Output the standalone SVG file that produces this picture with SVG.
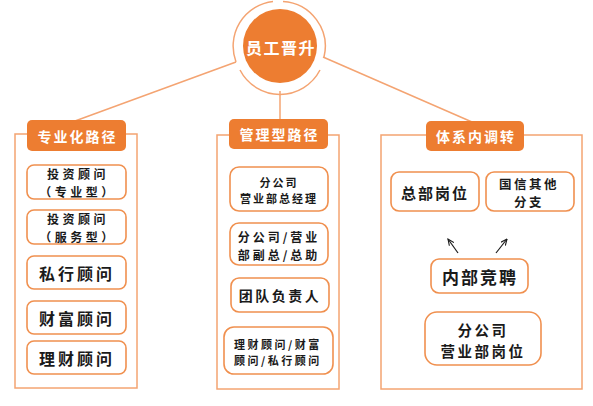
<svg xmlns="http://www.w3.org/2000/svg" width="593" height="406" viewBox="0 0 593 406">
<style>
text{font-family:"Noto Sans CJK SC","Noto Sans",sans-serif;font-weight:bold;text-anchor:middle;dominant-baseline:central}
.hdr{fill:#ED7D31}
.ht{fill:#fff;font-size:14px;letter-spacing:2px}
.box{fill:#fff;stroke:#F0904F;stroke-width:1.6}
.cont{fill:none;stroke:#F4A472;stroke-width:1.5}
.t{fill:#1a1a1a}
.ln{stroke:#F4A472;stroke-width:1.5;fill:none}
.ar{stroke:#1a1a1a;stroke-width:1.2;fill:none}
</style>
<defs>
<marker id="ah" viewBox="0 0 10 10" refX="9" refY="5" markerWidth="7" markerHeight="7" orient="auto-start-reverse" markerUnits="userSpaceOnUse">
<path d="M0,1 L9,5 L0,9" fill="none" stroke="#1a1a1a" stroke-width="1.6"/>
</marker>
</defs>
<rect width="593" height="406" fill="#fff"/>
<g id="connectors">
<line class="ln" x1="236" y1="62" x2="75" y2="121"/>
<line class="ln" x1="280" y1="91" x2="280" y2="120"/>
<line class="ln" x1="323" y1="57" x2="472" y2="122"/>
<line class="ar" x1="458" y1="253" x2="448" y2="239" marker-end="url(#ah)"/>
<line class="ar" x1="496" y1="253" x2="507" y2="239" marker-end="url(#ah)"/>
</g>
<g id="root">
<path class="ln" d="M273,1.5 A45,45 0 0 0 236,62 M240,70 A45,45 0 0 0 320,70 M324,57 A45,45 0 0 0 283,1.5"/>
<circle cx="280" cy="46" r="37" fill="#ED7D31"/>
<text x="281" y="47" fill="#fff" font-size="16" letter-spacing="1.5">员工晋升</text>
</g>
<g id="col-left">
<rect class="cont" x="15" y="134" width="122" height="254"/>
<rect class="hdr" x="27" y="120" width="99" height="31" rx="5"/>
<text class="ht" x="77.5" y="135.5">专业化路径</text>
</g>
<g id="n-l1"><rect class="box" x="27" y="165" width="99" height="34" rx="7"/><text class="t" font-size="12" letter-spacing="3.5"><tspan x="78" y="173">投资顾问</tspan><tspan x="78" y="190.5">（专业型）</tspan></text></g>
<g id="n-l2"><rect class="box" x="27" y="210" width="99" height="34" rx="7"/><text class="t" font-size="12" letter-spacing="3.5"><tspan x="78" y="218">投资顾问</tspan><tspan x="78" y="235.5">（服务型）</tspan></text></g>
<g id="n-l3"><rect class="box" x="27" y="256" width="99" height="33" rx="7"/><text class="t" x="77" y="272.5" font-size="16" letter-spacing="3">私行顾问</text></g>
<g id="n-l4"><rect class="box" x="27" y="301" width="99" height="33" rx="7"/><text class="t" x="77" y="317.5" font-size="16" letter-spacing="3">财富顾问</text></g>
<g id="n-l5"><rect class="box" x="27" y="341" width="99" height="33" rx="7"/><text class="t" x="77" y="357.5" font-size="16" letter-spacing="3">理财顾问</text></g>
<g id="col-mid">
<rect class="cont" x="217" y="135" width="122" height="254"/>
<rect class="hdr" x="229" y="119" width="99" height="30" rx="5"/>
<text class="ht" x="279.5" y="134">管理型路径</text>
</g>
<g id="n-m1"><rect class="box" x="230" y="167" width="98" height="44" rx="9"/><text class="t" font-size="11" letter-spacing="2"><tspan x="279" y="181.5">分公司</tspan><tspan x="279" y="197.5">营业部总经理</tspan></text></g>
<g id="n-m2"><rect class="box" x="230" y="223" width="98" height="42" rx="9"/><text class="t" font-size="12" letter-spacing="3"><tspan x="279" y="236">分公司/营业</tspan><tspan x="279" y="253.5">部副总/总助</tspan></text></g>
<g id="n-m3"><rect class="box" x="231" y="278" width="98" height="34" rx="8"/><text class="t" x="280" y="295" font-size="14" letter-spacing="2.5">团队负责人</text></g>
<g id="n-m4"><rect class="box" x="224" y="327" width="109" height="47" rx="10"/><text class="t" font-size="11" letter-spacing="2.5"><tspan x="278" y="343.5">理财顾问/财富</tspan><tspan x="278" y="359.5">顾问/私行顾问</tspan></text></g>
<g id="col-right">
<rect class="cont" x="381" y="135" width="201" height="254"/>
<rect class="hdr" x="426" y="121" width="98" height="30" rx="5"/>
<text class="ht" x="476" y="136">体系内调转</text>
</g>
<g id="n-r1"><rect class="box" x="391" y="172" width="88" height="39" rx="8"/><text class="t" x="435" y="192" font-size="15" letter-spacing="2">总部岗位</text></g>
<g id="n-r2"><rect class="box" x="486" y="172" width="88" height="39" rx="8"/><text class="t" font-size="12.5" letter-spacing="2.5"><tspan x="529" y="183">国信其他</tspan><tspan x="529" y="201">分支</tspan></text></g>
<g id="n-r3"><rect class="box" x="431" y="259" width="97" height="34" rx="8"/><text class="t" x="480" y="276" font-size="17" letter-spacing="2">内部竞聘</text></g>
<g id="n-r4"><rect class="box" x="425" y="312" width="116" height="53" rx="12"/><text class="t" font-size="14.5" letter-spacing="2.5"><tspan x="483" y="328.5">分公司</tspan><tspan x="483" y="349.5">营业部岗位</tspan></text></g>
</svg>
